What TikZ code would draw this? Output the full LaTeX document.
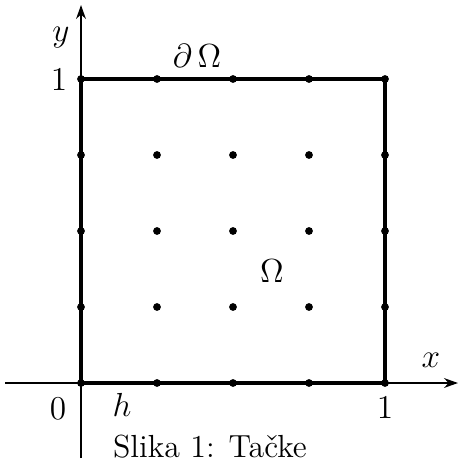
\documentclass[tikz,border=0pt]{standalone}
\usetikzlibrary{arrows.meta}
\begin{document}
\begin{tikzpicture}[x=0.36pt,y=-0.36pt,
  axis/.style={line width=1pt,-{Stealth[length=5pt,width=3.5pt]}},
  boundary/.style={line width=1.3pt},
  pt/.style={circle,fill=black,inner sep=0pt,minimum size=2.8pt},
  lbl/.style={inner sep=0pt,font=\fontsize{11.5}{13}\selectfont}]
\useasboundingbox (0,0) rectangle (459,468);
% axes
\coordinate (xs) at (5,383);
\coordinate (xe) at (458,383);
\coordinate (ys) at (81,458);
\coordinate (ye) at (81,5);
\draw[axis] (xs) -- (xe);
\draw[axis] (ys) -- (ye);
% square
\coordinate (A) at (81,383);
\coordinate (B) at (385,383);
\coordinate (C) at (385,79);
\coordinate (D) at (81,79);
\draw[boundary] (A) -- (B) -- (C) -- (D) -- cycle;
% grid points
\foreach \i in {0,...,4}{
  \foreach \j in {0,...,4}{
    \node[pt] (p\i\j) at ({81+76*\i},{383-76*\j}) {};
  }
}
% labels
\node[lbl] (ly) at (61,38) {$y$};
\node[lbl] (l1y) at (59,80) {$1$};
\node[lbl] (ldo) at (197,56) {$\partial\,\Omega$};
\node[lbl] (lo) at (272,271) {$\Omega$};
\node[lbl] (lx) at (431,360) {$x$};
\node[lbl] (l0) at (58,409) {$0$};
\node[lbl] (lh) at (122,405) {$h$};
\node[lbl] (l1x) at (385,408) {$1$};
\node[lbl,anchor=base] (cap) at (210,457) {Slika 1: Ta\v{c}ke};
\end{tikzpicture}
\end{document}
